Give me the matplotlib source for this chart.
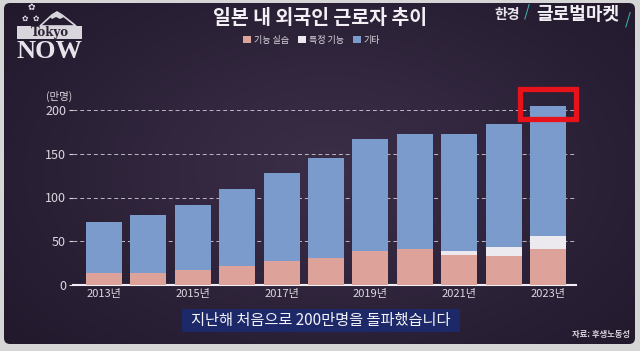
import numpy as np
import matplotlib.pyplot as plt
from matplotlib.patches import FancyBboxPatch, Rectangle, Patch, Polygon

plt.rcParams['font.family'] = ['Noto Sans CJK KR', 'DejaVu Sans']

years = ['2013년', '2014년', '2015년', '2016년', '2017년', '2018년',
         '2019년', '2020년', '2021년', '2022년', '2023년']
intern = [14.1, 13.3, 17.1, 21.7, 27.4, 31.2, 39.2, 41.1, 34.7, 33.5, 40.8]   # 기능 실습
skilled = [0, 0, 0, 0, 0, 0, 0, 0, 4.5, 10.3, 15.6]                          # 특정 기능
other = [58.2, 67.1, 74.3, 87.6, 101.0, 114.3, 127.3, 131.5, 133.4, 139.8, 148.6]  # 기타
yticks = [0, 50, 100, 150, 200]

c_pink = '#dda39a'
c_white = '#ece9ef'
c_blue = '#7b9bcc'
c_text = '#dcd8e0'

fig = plt.figure(figsize=(6.4, 3.51), dpi=100, facecolor='#d6d6d6')

# background panel
bg = fig.add_axes([0, 0, 1, 1])
bg.set_xlim(0, 640)
bg.set_ylim(351, 0)
bg.axis('off')
yy, xx = np.mgrid[0:351, 0:640]
r = np.sqrt(((xx - 330) / 420.0) ** 2 + ((yy - 170) / 260.0) ** 2)
grad = np.clip(1 - r, 0, 1)
c0 = np.array([0x22, 0x19, 0x2d]) / 255.0
c1 = np.array([0x3b, 0x2f, 0x48]) / 255.0
img = c0 + (c1 - c0) * grad[..., None]
im = bg.imshow(img, extent=(0, 640, 351, 0), aspect='auto', zorder=0)
panel = FancyBboxPatch((4, 3), 631, 341, boxstyle='round,pad=0,rounding_size=6',
                       transform=bg.transData, facecolor='none', edgecolor='none')
bg.add_patch(panel)
im.set_clip_path(panel)

# logo top-left
bg.add_patch(Polygon([[40, 26], [52, 15], [57, 12], [62, 15], [76, 26]], closed=True,
                     facecolor='none', edgecolor='#d8d6dc', lw=1.2, zorder=2))
bg.add_patch(Polygon([[50, 17], [57, 12], [64, 17], [60, 19], [56, 17], [52, 19]], closed=True,
                     facecolor='#d8d6dc', edgecolor='none', zorder=2))
bg.add_patch(Rectangle((17, 26), 65, 13, facecolor='#d8d6dc', edgecolor='none', zorder=3))
bg.text(49.5, 32.5, 'Tokyo', ha='center', va='center', fontsize=8.5, color='#2a2233',
        family='DejaVu Serif', fontweight='bold', zorder=4)
bg.text(49.5, 52, 'NOW', ha='center', va='center', fontsize=19, color='#e6e4ea',
        family='Liberation Serif', fontweight='bold', zorder=4)
bg.text(31, 8, '✿', ha='center', va='center', fontsize=6.5, color='#e6e4ea', family='DejaVu Sans', zorder=4)
bg.text(25, 18.5, '✿', ha='center', va='center', fontsize=5.5, color='#e6e4ea', family='DejaVu Sans', zorder=4)
bg.text(35.5, 18.5, '✿', ha='center', va='center', fontsize=5.5, color='#e6e4ea', family='DejaVu Sans', zorder=4)

# brand top-right
bg.text(507, 15, '한경', ha='center', va='center', fontsize=10, color='#e8e6ec', fontweight='bold')
bg.text(527, 12, '/', ha='center', va='center', fontsize=11, color='#3fb8b0')
bg.text(578, 15, '글로벌마켓', ha='center', va='center', fontsize=13, color='#f2f0f4', fontweight='bold')
bg.text(628, 20, '/', ha='center', va='center', fontsize=11, color='#3fb8b0')

# title
bg.text(320, 19, '일본 내 외국인 근로자 추이', ha='center', va='center', fontsize=14,
        color='#f2f0f4', fontweight='bold')

# bottom caption
bg.add_patch(Rectangle((182, 309), 278, 23, facecolor='#1d2868', edgecolor='none', zorder=2))
bg.text(321, 320.5, '지난해 처음으로 200만명을 돌파했습니다', ha='center', va='center',
        fontsize=11, color='#f4f4f8', zorder=3)
bg.text(630, 335, '자료: 후생노동성', ha='right', va='center', fontsize=6, color='#d8d4dc',
        fontweight='bold')

# chart
ax = fig.add_axes([73 / 640, 66 / 351, 503 / 640, 192.5 / 351])
ax.set_facecolor('none')
x = np.arange(len(years))
w = 0.81
ax.bar(x, intern, w, color=c_pink, zorder=3, label='기능 실습')
ax.bar(x, skilled, w, bottom=intern, color=c_white, zorder=3, label='특정 기능')
ax.bar(x, other, w, bottom=np.add(intern, skilled), color=c_blue, zorder=3, label='기타')

ax.set_xlim(-0.70, 10.63)
ax.set_ylim(0, 220)
ax.set_yticks(yticks)
ax.set_yticklabels([str(v) for v in yticks], fontsize=9, color=c_text)
ax.set_xticks(x[::2])
ax.set_xticklabels(years[::2], fontsize=8, color=c_text)
ax.tick_params(axis='y', length=3, width=0.8, color=c_text, pad=2)
ax.tick_params(axis='x', length=0, pad=3)
for v in yticks[1:]:
    ax.axhline(v, color='#bdb8c4', lw=0.7, ls=(0, (4, 3)), zorder=1)
for s in ['top', 'right', 'left']:
    ax.spines[s].set_visible(False)
ax.spines['bottom'].set_color('#f0eef2')
ax.spines['bottom'].set_linewidth(1.5)
ax.text(-0.054, 0.977, '(만명)', transform=ax.transAxes, ha='left', va='center',
        fontsize=7.5, color=c_text)

# highlight box
ax.add_patch(Rectangle((9.37, 190), 1.26, 34, fill=False, edgecolor='#e8121a', lw=3.8,
                       clip_on=False, zorder=5))

handles = [Patch(facecolor=c_pink), Patch(facecolor=c_white), Patch(facecolor=c_blue)]
fig.legend(handles, ['기능 실습', '특정 기능', '기타'], loc='center', bbox_to_anchor=(0.487, 0.886),
           ncol=3, frameon=False, fontsize=6.5, handlelength=0.9, handleheight=0.9,
           handletextpad=0.3, columnspacing=1.0, labelcolor=c_text, borderpad=0)

fig.savefig('out.png', dpi=100, facecolor=fig.get_facecolor())
